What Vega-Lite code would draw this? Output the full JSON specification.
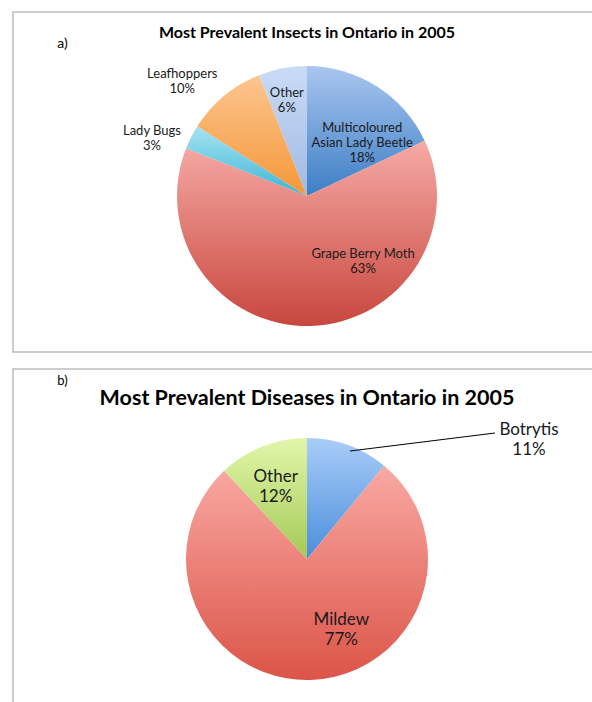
{
  "$schema": "https://vega.github.io/schema/vega-lite/v6.json",
  "padding": {"left": 12, "top": 11, "right": 0, "bottom": 0},
  "spacing": 15,
  "config": {
    "view": {"stroke": "#bdbdbd", "strokeWidth": 1.5},
    "title": {"font": "Lato", "color": "#000000"},
    "text": {"font": "Lato"}
  },
  "datasets": {
    "insects": [
      {"name": "Multicoloured Asian Lady Beetle", "pct": 18, "rank": 1},
      {"name": "Grape Berry Moth", "pct": 63, "rank": 2},
      {"name": "Lady Bugs", "pct": 3, "rank": 3},
      {"name": "Leafhoppers", "pct": 10, "rank": 4},
      {"name": "Other", "pct": 6, "rank": 5}
    ],
    "diseases": [
      {"name": "Botrytis", "pct": 11, "rank": 1},
      {"name": "Mildew", "pct": 77, "rank": 2},
      {"name": "Other", "pct": 12, "rank": 3}
    ]
  },
  "vconcat": [
    {
      "title": {"text": "a)", "anchor": "start", "dx": 45, "offset": -40, "fontSize": 14, "fontWeight": "normal"},
      "vconcat": [
        {
          "width": 588,
          "height": 340,
          "view": {"stroke": "#bdbdbd", "strokeWidth": 1.5},
          "title": {"text": "Most Prevalent Insects in Ontario in 2005", "anchor": "middle", "offset": -29, "fontSize": 16, "fontWeight": "bold"},
          "data": {"name": "insects"},
          "transform": [
            {"calculate": "replace(datum.name, 'Multicoloured ', 'Multicoloured\\n') + '\\n' + datum.pct + '%'", "as": "label"}
          ],
          "encoding": {
            "theta": {"field": "pct", "type": "quantitative", "stack": true},
            "order": {"field": "rank", "type": "quantitative"}
          },
          "layer": [
            {
              "mark": {"type": "arc", "outerRadius": 130, "yOffset": 14},
              "encoding": {
                "fill": {
                  "condition": [
                    {"test": "datum.name === 'Multicoloured Asian Lady Beetle'", "value": {"gradient": "linear", "x1": 0, "y1": 0, "x2": 0, "y2": 1, "stops": [{"offset": 0, "color": "#a9c6ef"}, {"offset": 1, "color": "#3d7ec5"}]}},
                    {"test": "datum.name === 'Grape Berry Moth'", "value": {"gradient": "linear", "x1": 0, "y1": 0, "x2": 0, "y2": 1, "stops": [{"offset": 0, "color": "#f6aaa6"}, {"offset": 1, "color": "#c8473e"}]}},
                    {"test": "datum.name === 'Lady Bugs'", "value": {"gradient": "linear", "x1": 0, "y1": 0, "x2": 0, "y2": 1, "stops": [{"offset": 0, "color": "#a5e3f2"}, {"offset": 1, "color": "#3fb5d4"}]}},
                    {"test": "datum.name === 'Leafhoppers'", "value": {"gradient": "linear", "x1": 0, "y1": 0, "x2": 0, "y2": 1, "stops": [{"offset": 0, "color": "#fcc591"}, {"offset": 1, "color": "#f59737"}]}}
                  ],
                  "value": {"gradient": "linear", "x1": 0, "y1": 0, "x2": 0, "y2": 1, "stops": [{"offset": 0, "color": "#c9dbf6"}, {"offset": 1, "color": "#a1b9e3"}]}
                }
              }
            },
            {
              "mark": {
                "type": "text",
                "radius": {"expr": "datum.name === 'Multicoloured Asian Lady Beetle' ? 75 : datum.name === 'Grape Berry Moth' ? 66 : datum.name === 'Lady Bugs' ? 165 : datum.name === 'Leafhoppers' ? 169 : 97"},
                "dx": {"expr": "datum.name === 'Multicoloured Asian Lady Beetle' ? 15 : datum.name === 'Grape Berry Moth' ? 54 : datum.name === 'Lady Bugs' ? -8 : datum.name === 'Leafhoppers' ? -17 : -2"},
                "dy": {"expr": "datum.name === 'Multicoloured Asian Lady Beetle' ? -5 : datum.name === 'Grape Berry Moth' ? -7.5 : datum.name === 'Lady Bugs' ? 9.5 : datum.name === 'Leafhoppers' ? 8.5 : -7.5"},
                "yOffset": 14,
                "fontSize": 13,
                "lineHeight": 15,
                "lineBreak": "\n",
                "align": "center",
                "baseline": "middle",
                "color": "#1a1a1a"
              },
              "encoding": {"text": {"field": "label"}}
            }
          ]
        }
      ]
    },
    {
      "title": {"text": "b)", "anchor": "start", "dx": 45, "offset": -20, "fontSize": 13, "fontWeight": "normal"},
      "vconcat": [
        {
          "width": 588,
          "height": 345,
          "view": {"stroke": "#bdbdbd", "strokeWidth": 1.5},
          "title": {"text": "Most Prevalent Diseases in Ontario in 2005", "anchor": "middle", "offset": -40, "fontSize": 21.5, "fontWeight": "bold"},
          "layer": [
            {
              "data": {"name": "diseases"},
              "transform": [
                {"calculate": "datum.name + '\\n' + datum.pct + '%'", "as": "label"}
              ],
              "encoding": {
                "theta": {"field": "pct", "type": "quantitative", "stack": true},
                "order": {"field": "rank", "type": "quantitative"}
              },
              "layer": [
                {
                  "mark": {"type": "arc", "outerRadius": 121, "yOffset": 17.5},
                  "encoding": {
                    "fill": {
                      "condition": [
                        {"test": "datum.name === 'Botrytis'", "value": {"gradient": "linear", "x1": 0, "y1": 0, "x2": 0, "y2": 1, "stops": [{"offset": 0, "color": "#a9cdf8"}, {"offset": 1, "color": "#4a8ddc"}]}},
                        {"test": "datum.name === 'Mildew'", "value": {"gradient": "linear", "x1": 0, "y1": 0, "x2": 0, "y2": 1, "stops": [{"offset": 0, "color": "#f9a9a3"}, {"offset": 1, "color": "#dc5448"}]}}
                      ],
                      "value": {"gradient": "linear", "x1": 0, "y1": 0, "x2": 0, "y2": 1, "stops": [{"offset": 0, "color": "#e2f6aa"}, {"offset": 1, "color": "#a3ca56"}]}
                    }
                  }
                },
                {
                  "mark": {
                    "type": "text",
                    "radius": {"expr": "datum.name === 'Botrytis' ? 130 : datum.name === 'Mildew' ? 71 : 77"},
                    "dx": {"expr": "datum.name === 'Botrytis' ? 178 : datum.name === 'Mildew' ? 32 : -3"},
                    "dy": {"expr": "datum.name === 'Botrytis' ? -7 : -10"},
                    "yOffset": 17.5,
                    "fontSize": 17,
                    "lineHeight": 20,
                    "lineBreak": "\n",
                    "align": "center",
                    "baseline": "middle",
                    "color": "#1a1a1a"
                  },
                  "encoding": {"text": {"field": "label"}}
                }
              ]
            },
            {
              "data": {"values": [{"leader": "Botrytis"}]},
              "mark": {"type": "rule", "color": "#000000", "strokeWidth": 1},
              "encoding": {
                "x": {"value": 337},
                "y": {"value": 82},
                "x2": {"value": 482},
                "y2": {"value": 64}
              }
            }
          ]
        }
      ]
    }
  ]
}
